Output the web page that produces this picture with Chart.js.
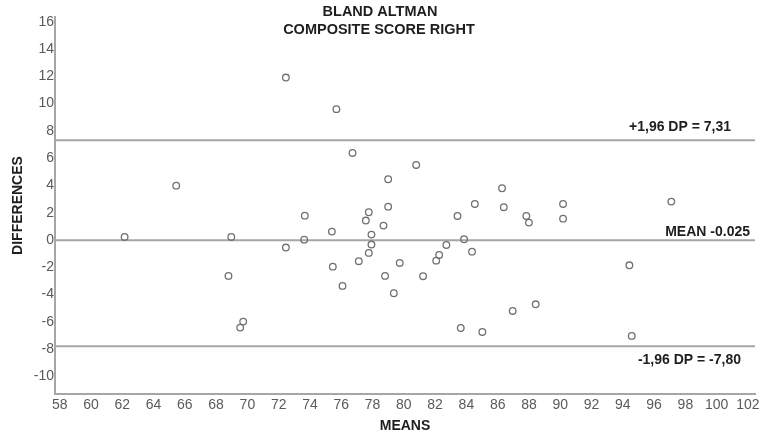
<!DOCTYPE html>
<html>
<head>
<meta charset="utf-8">
<script src="https://cdn.jsdelivr.net/npm/chart.js@4/dist/chart.umd.min.js"></script>
<style>
html,body{margin:0;padding:0;background:#fff;}
#wrap{width:763px;height:436px;position:relative;}
</style>
</head>
<body>
<div id="wrap"><canvas id="c" width="763" height="436"></canvas></div>
<script>
// Data
const means = [62.15,65.45,68.79,68.97,69.54,69.73,72.46,72.46,73.63,73.67,75.40,75.46,75.69,76.08,76.72,77.12,77.57,77.76,77.76,77.93,77.93,78.70,78.80,79.00,79.00,79.36,79.74,80.79,81.23,82.07,82.26,82.72,83.43,83.64,83.85,84.36,84.54,85.02,86.28,86.39,86.96,87.83,88.00,88.43,90.18,90.18,94.42,94.57,97.10];
const differences = [0.22,3.98,-2.64,0.22,-6.43,-5.99,11.91,-0.56,0.02,1.78,0.61,-1.96,9.59,-3.37,6.38,-1.56,1.42,2.03,-0.95,0.39,-0.34,1.05,-2.64,4.45,2.44,-3.91,-1.69,5.50,-2.66,-1.52,-1.10,-0.37,1.76,-6.46,0.05,-0.86,2.64,-6.75,3.79,2.40,-5.21,1.76,1.27,-4.72,2.64,1.56,-1.86,-7.04,2.81];
const limitValues = [7.31, -0.025, -7.80];
const limitLabels = ['+1,96 DP = 7,31', 'MEAN -0.025', '-1,96 DP = -7,80'];
const xTickLabels = [58,60,62,64,66,68,70,72,74,76,78,80,82,84,86,88,90,92,94,96,98,100,102];
const yTickLabels = [-10,-8,-6,-4,-2,0,2,4,6,8,10,12,14,16];
const titleLines = ['BLAND ALTMAN', 'COMPOSITE SCORE RIGHT'];

const X_MIN = 57.7, X_MAX = 102.45, Y_MIN = -11.3, Y_MAX = 16.35;
const FONT = '"Liberation Sans", Arial, sans-serif';

const points = means.map((m, i) => ({x: m, y: differences[i]}));
const lineSets = limitValues.map(v => ({
  type: 'line',
  data: [{x: X_MIN, y: v}, {x: X_MAX, y: v}],
  borderColor: '#a6a6a6',
  borderWidth: 2,
  pointRadius: 0,
  fill: false,
  order: 2
}));

const overlay = {
  id: 'overlay',
  afterDraw(chart) {
    const ctx = chart.ctx;
    const ys = chart.scales.y;
    ctx.save();
    ctx.fillStyle = '#1e1e1e';
    ctx.font = 'bold 14.5px ' + FONT;
    ctx.textAlign = 'center';
    ctx.textBaseline = 'middle';
    ctx.fillText(titleLines[0], 380, 12);
    ctx.fillText(titleLines[1], 379, 30);
    ctx.font = 'bold 14px ' + FONT;
    ctx.textAlign = 'right';
    const rights = [731, 750, 741];
    const offs = [-13, -8, 14];
    limitValues.forEach((v, i) => {
      ctx.fillText(limitLabels[i], rights[i], ys.getPixelForValue(v) + offs[i]);
    });
    ctx.restore();
  }
};

new Chart(document.getElementById('c'), {
  type: 'scatter',
  data: {
    datasets: [{
      data: points,
      pointStyle: 'circle',
      pointRadius: 3.3,
      pointBorderWidth: 1.3,
      pointBorderColor: '#707070',
      pointBackgroundColor: 'rgba(255,255,255,0)',
      showLine: false,
      order: 1
    }, ...lineSets]
  },
  options: {
    responsive: false,
    animation: false,
    events: [],
    layout: {padding: {top: 17, right: 8, left: 0, bottom: 0}},
    plugins: {legend: {display: false}, tooltip: {enabled: false}, title: {display: false}},
    scales: {
      x: {
        type: 'linear',
        min: X_MIN, max: X_MAX,
        afterBuildTicks: s => { s.ticks = xTickLabels.map(v => ({value: v})); },
        afterFit: s => { s.height = 42; },
        grid: {drawOnChartArea: false, drawTicks: false},
        border: {display: true, color: '#a6a6a6', width: 2},
        ticks: {color: '#5a5a5a', font: {family: FONT, size: 14}, padding: 3, maxRotation: 0, autoSkip: false},
        title: {display: true, text: 'MEANS', color: '#1e1e1e', font: {family: FONT, size: 14, weight: 'bold'}, padding: {top: 0, bottom: 1}}
      },
      y: {
        type: 'linear',
        min: Y_MIN, max: Y_MAX,
        afterBuildTicks: s => { s.ticks = yTickLabels.map(v => ({value: v})); },
        afterFit: s => { s.width = 55; },
        grid: {drawOnChartArea: false, drawTicks: false},
        border: {display: true, color: '#a6a6a6', width: 2},
        ticks: {color: '#5a5a5a', font: {family: FONT, size: 14}, padding: 1, autoSkip: false},
        title: {display: true, text: 'DIFFERENCES', color: '#1e1e1e', font: {family: FONT, size: 14, weight: 'bold'}, padding: {top: 10, bottom: 0}}
      }
    }
  },
  plugins: [overlay]
});
</script>
</body>
</html>
